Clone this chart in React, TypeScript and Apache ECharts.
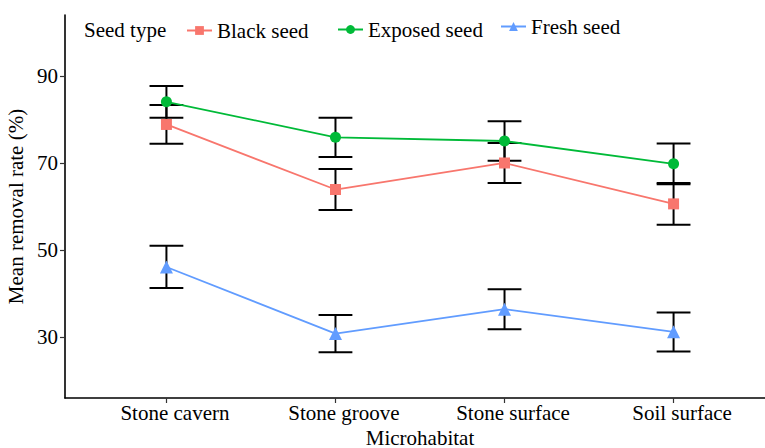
import React, { useEffect, useRef } from "react";
import * as echarts from "echarts";

const categories = ["Stone cavern", "Stone groove", "Stone surface", "Soil surface"];
const yTicks = [30, 50, 70, 90];

const blackMean = [78.85, 63.9, 70.0, 60.6];
const blackLow = [74.4, 59.2, 65.4, 55.8];
const blackHigh = [83.3, 68.6, 74.6, 65.4];

const exposedMean = [84.05, 75.9, 75.05, 69.8];
const exposedLow = [80.4, 71.4, 70.5, 65.1];
const exposedHigh = [87.7, 80.4, 79.6, 74.5];

const freshMean = [46.1, 30.8, 36.4, 31.2];
const freshLow = [41.25, 26.5, 31.8, 26.7];
const freshHigh = [51.0, 35.05, 41.0, 35.65];

const FONT = "Liberation Serif";

export default function App() {
  const ref = useRef<HTMLDivElement>(null);
  useEffect(() => {
    if (!ref.current) return;
    const chart = echarts.init(ref.current, null, { renderer: "svg" });
    const pts = (arr: number[]) => arr.map((v, i) => [i + 1, v]);
    const errData = [
      ...blackLow.map((l, i) => [i + 1, l, blackHigh[i]]),
      ...exposedLow.map((l, i) => [i + 1, l, exposedHigh[i]]),
      ...freshLow.map((l, i) => [i + 1, l, freshHigh[i]]),
    ];
    const lineSeries = (name: string, data: number[], color: string, symbol: string, size: number) => ({
      type: "line",
      name,
      data: pts(data),
      symbol,
      symbolSize: size,
      lineStyle: { color, width: 1.8 },
      itemStyle: { color },
      z: 3,
    });
    const legendItem = (name: string, left: number, top: number) => ({
      data: [name],
      left,
      top,
      padding: 0,
      itemWidth: 25,
      itemHeight: 11,
      itemGap: 5,
      textStyle: { fontFamily: FONT, fontSize: 21, color: "#000" },
    });
    chart.setOption({
      animation: false,
      title: {
        text: "Seed type",
        left: 84,
        top: 19,
        padding: 0,
        textStyle: { fontFamily: FONT, fontSize: 21, fontWeight: "normal", color: "#000" },
      },
      legend: [
        legendItem("Black seed", 186, 20),
        legendItem("Exposed seed", 337, 19),
        legendItem("Fresh seed", 500, 16),
      ],
      grid: { left: 65, right: -10, top: 15, bottom: 50, containLabel: false, outerBoundsMode: "none" },
      xAxis: {
        type: "value",
        min: 0.4,
        max: 4.6,
        name: "Microhabitat",
        nameLocation: "middle",
        nameGap: 29,
        nameTextStyle: { fontFamily: FONT, fontSize: 21, color: "#000" },
        axisLine: { show: true, lineStyle: { color: "#000", width: 1.6 } },
        axisTick: { show: true, customValues: [1, 2, 3, 4], length: 5, lineStyle: { color: "#333", width: 1.2 } },
        axisLabel: {
          customValues: [1, 2, 3, 4],
          formatter: (v: number) => categories[Math.round(v) - 1] ?? "",
          fontFamily: FONT,
          fontSize: 21,
          color: "#000",
          margin: 4,
          padding: [0, 0, 0, 17],
        },
        splitLine: { show: false },
      },
      yAxis: {
        type: "value",
        min: 16,
        max: 104,
        name: "Mean removal rate (%)",
        nameLocation: "middle",
        nameGap: 26,
        nameTextStyle: { fontFamily: FONT, fontSize: 21, color: "#000" },
        axisLine: { show: true, lineStyle: { color: "#000", width: 1.6 } },
        axisTick: { show: true, customValues: yTicks, length: 5, lineStyle: { color: "#333", width: 1.2 } },
        axisLabel: {
          customValues: yTicks,
          fontFamily: FONT,
          fontSize: 21,
          color: "#000",
          margin: 7,
        },
        splitLine: { show: false },
      },
      series: [
        {
          type: "custom",
          name: "errorbars",
          data: errData,
          z: 1,
          renderItem: (params: any, api: any) => {
            const x = api.value(0);
            const lo = api.coord([x, api.value(1)]);
            const hi = api.coord([x, api.value(2)]);
            const hw = api.size([0.1, 0])[0];
            const style = { stroke: "#000", lineWidth: 2, fill: "none" };
            return {
              type: "group",
              children: [
                { type: "line", shape: { x1: lo[0], y1: lo[1], x2: hi[0], y2: hi[1] }, style },
                { type: "line", shape: { x1: lo[0] - hw, y1: lo[1], x2: lo[0] + hw, y2: lo[1] }, style },
                { type: "line", shape: { x1: hi[0] - hw, y1: hi[1], x2: hi[0] + hw, y2: hi[1] }, style },
              ],
            };
          },
        },
        lineSeries("Black seed", blackMean, "#F8766D", "rect", 11),
        lineSeries("Exposed seed", exposedMean, "#00BA38", "circle", 11),
        lineSeries("Fresh seed", freshMean, "#619CFF", "triangle", 13),
      ],
    });
    return () => chart.dispose();
  }, []);
  return <div ref={ref} style={{ position: "absolute", left: 0, top: 0, width: 765, height: 448 }} />;
}
